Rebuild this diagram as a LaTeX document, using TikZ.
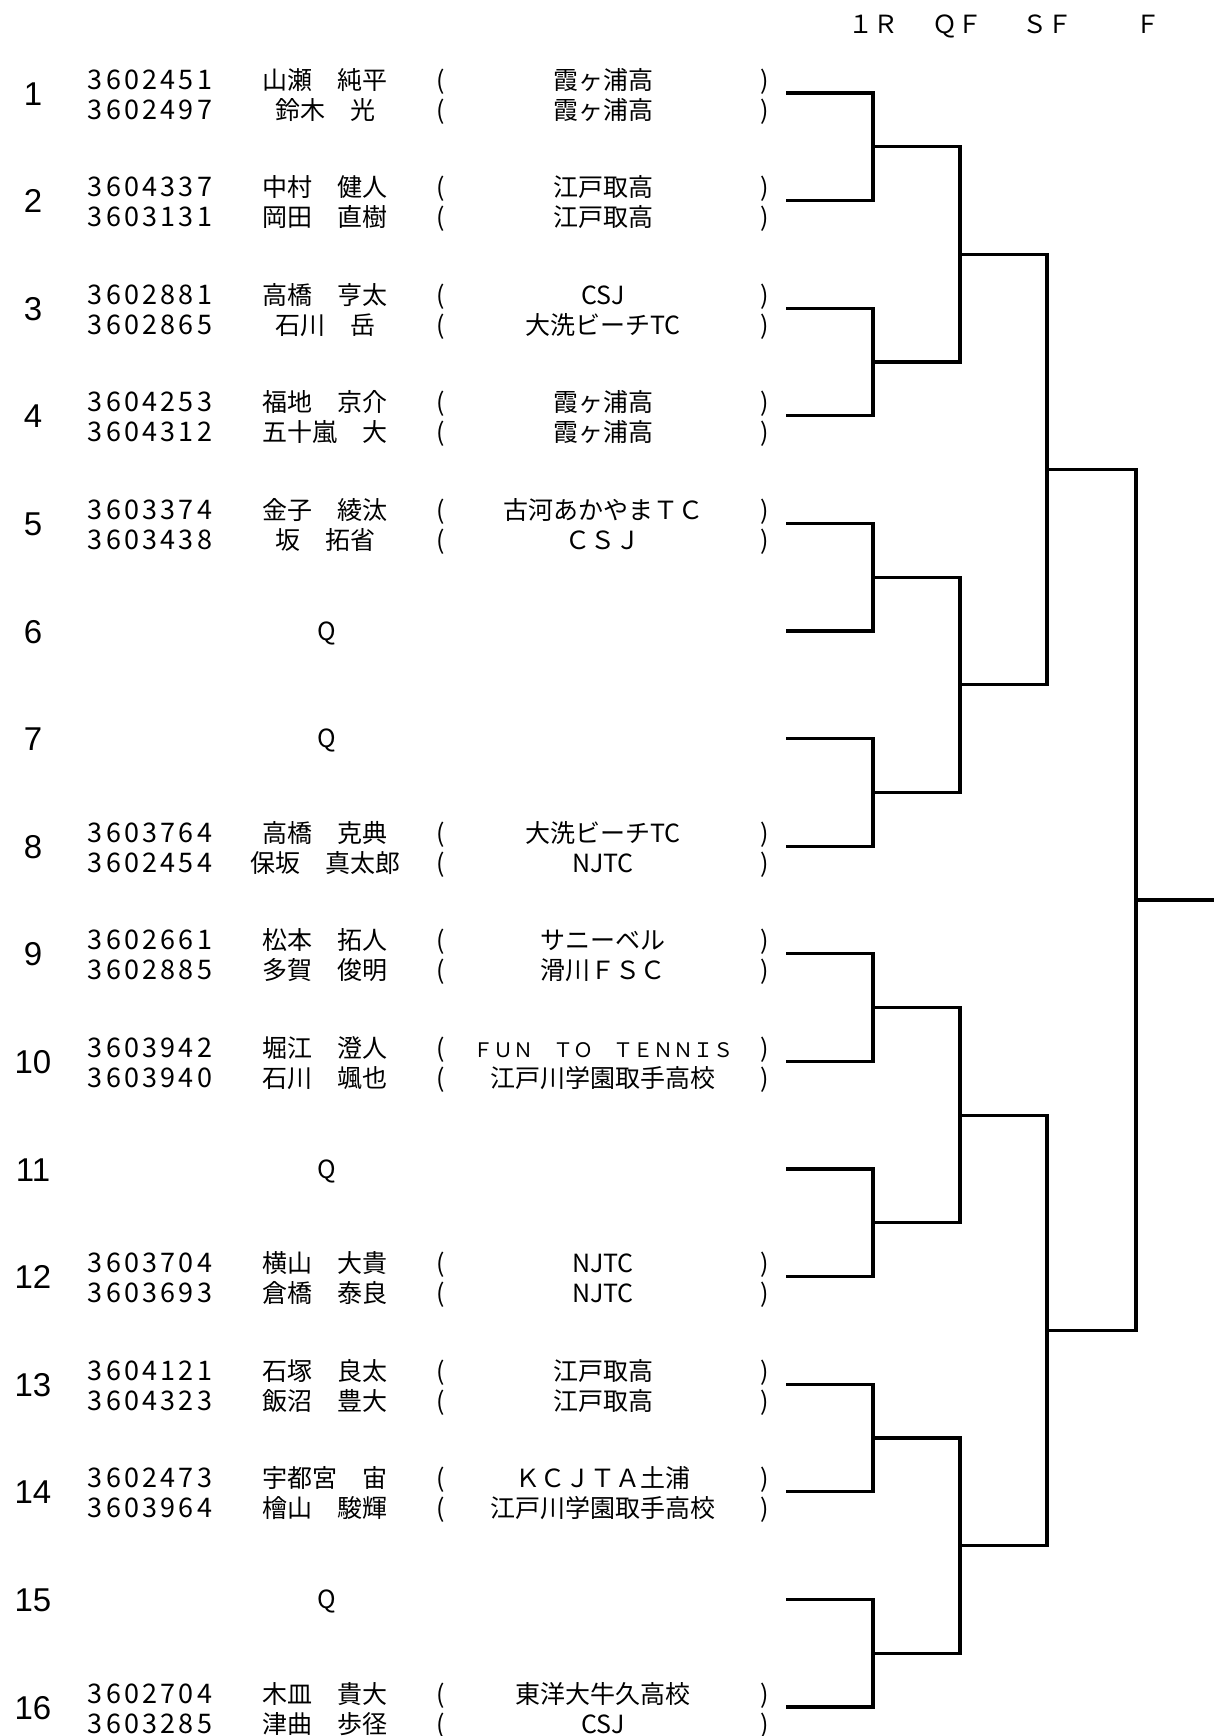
\documentclass[tikz,border=0pt]{standalone}
\usepackage{fontspec}
\setmainfont{Noto Sans CJK JP}
\newfontfamily\idfont[LetterSpace=12]{Noto Sans CJK JP}
\newfontfamily\numfont{Liberation Sans}

\tikzset{
	every node/.style={inner sep=0pt},
	numtxt/.style={anchor=base,font=\numfont\fontsize{16.5}{18}\selectfont},
	idtxt/.style={anchor=base,font=\idfont\fontsize{13.5}{15}\selectfont},
	jptxt/.style={anchor=base,font=\fontsize{12.5}{15}\selectfont},
	bline/.style={line width=1.6pt},
}

\begin{document}
\begin{tikzpicture}[x=0.5pt,y=-0.5pt]
		\useasboundingbox (0,0) rectangle (1214,1736);
		% rounds
		\foreach \x/\t/\n in {873/１Ｒ/r, 957/ＱＦ/q, 1047/ＳＦ/s, 1148/Ｆ/f}{
			\node[jptxt] (h\n) at (\x,33.5) {\t};
		}
		% draw numbers
		\foreach \i in {1,...,16}{
			\pgfmathsetmacro{\y}{93+(\i-1)*107.6}
			\node[numtxt] (n\i) at (33,\y+12) {\i};
			\coordinate (e\i) at (786,\y);
		}
		% players
		\foreach \i/\ida/\namea/\cluba/\idb/\nameb/\clubb in {
			1/3602451/山瀬　純平/霞ヶ浦高/3602497/鈴木　光/霞ヶ浦高,
			2/3604337/中村　健人/江戸取高/3603131/岡田　直樹/江戸取高,
			3/3602881/高橋　亨太/CSJ/3602865/石川　岳/大洗ビーチTC,
			4/3604253/福地　京介/霞ヶ浦高/3604312/五十嵐　大/霞ヶ浦高,
			5/3603374/金子　綾汰/古河あかやまＴＣ/3603438/坂　拓省/ＣＳＪ,
			8/3603764/高橋　克典/大洗ビーチTC/3602454/保坂　真太郎/NJTC,
			9/3602661/松本　拓人/サニーベル/3602885/多賀　俊明/滑川ＦＳＣ,
			10/3603942/堀江　澄人/{\fontsize{10}{12}\selectfont ＦＵＮ　ＴＯ　ＴＥＮＮＩＳ}/3603940/石川　颯也/江戸川学園取手高校,
			12/3603704/横山　大貴/NJTC/3603693/倉橋　泰良/NJTC,
			13/3604121/石塚　良太/江戸取高/3604323/飯沼　豊大/江戸取高,
			14/3602473/宇都宮　宙/ＫＣＪＴＡ土浦/3603964/檜山　駿輝/江戸川学園取手高校,
			16/3602704/木皿　貴大/東洋大牛久高校/3603285/津曲　歩径/CSJ}{
			\pgfmathsetmacro{\y}{93+(\i-1)*107.6}
			\node[idtxt] (ida\i) at (150,\y-4) {\ida};
			\node[jptxt] (pna\i) at (325,\y-4) {\namea};
			\node[jptxt] (lpa\i) at (441,\y-4) {(};
			\node[jptxt] (cla\i) at (603,\y-4) {\cluba};
			\node[jptxt] (rpa\i) at (765,\y-4) {)};
			\node[idtxt] (idb\i) at (150,\y+26) {\idb};
			\node[jptxt] (pnb\i) at (325,\y+26) {\nameb};
			\node[jptxt] (lpb\i) at (441,\y+26) {(};
			\node[jptxt] (clb\i) at (603,\y+26) {\clubb};
			\node[jptxt] (rpb\i) at (765,\y+26) {)};
		}
		\foreach \i in {6,7,11,15}{
			\pgfmathsetmacro{\y}{93+(\i-1)*107.6}
			\node[jptxt] (qual\i) at (327,\y+9) {Q};
		}
		
		% bracket
		\foreach \k in {1,...,8}{
			\coordinate (r\k) at (873,{93+(2*\k-1.5)*107.6});
		}
		\foreach \k in {1,...,4}{
			\coordinate (q\k) at (960,{93+(4*\k-2.5)*107.6});
		}
		\foreach \k in {1,2}{
			\coordinate (s\k) at (1047,{93+(8*\k-4.5)*107.6});
		}
		\coordinate (f1) at (1136,{93+7.5*107.6});
		\coordinate (win) at (1214,{93+7.5*107.6});
		
		\foreach \k in {1,...,8}{
			\pgfmathtruncatemacro{\a}{2*\k-1}
			\pgfmathtruncatemacro{\b}{2*\k}
			\draw[bline] (e\a) -| (r\k) |- (e\b);
		}
		\foreach \k in {1,...,4}{
			\pgfmathtruncatemacro{\a}{2*\k-1}
			\pgfmathtruncatemacro{\b}{2*\k}
			\draw[bline] (r\a) -| (q\k) |- (r\b);
		}
		\foreach \k in {1,2}{
			\pgfmathtruncatemacro{\a}{2*\k-1}
			\pgfmathtruncatemacro{\b}{2*\k}
			\draw[bline] (q\a) -| (s\k) |- (q\b);
		}
		\draw[bline] (s1) -| (f1) |- (s2);
		\draw[bline] (f1) -- (win);
\end{tikzpicture}
\end{document}
